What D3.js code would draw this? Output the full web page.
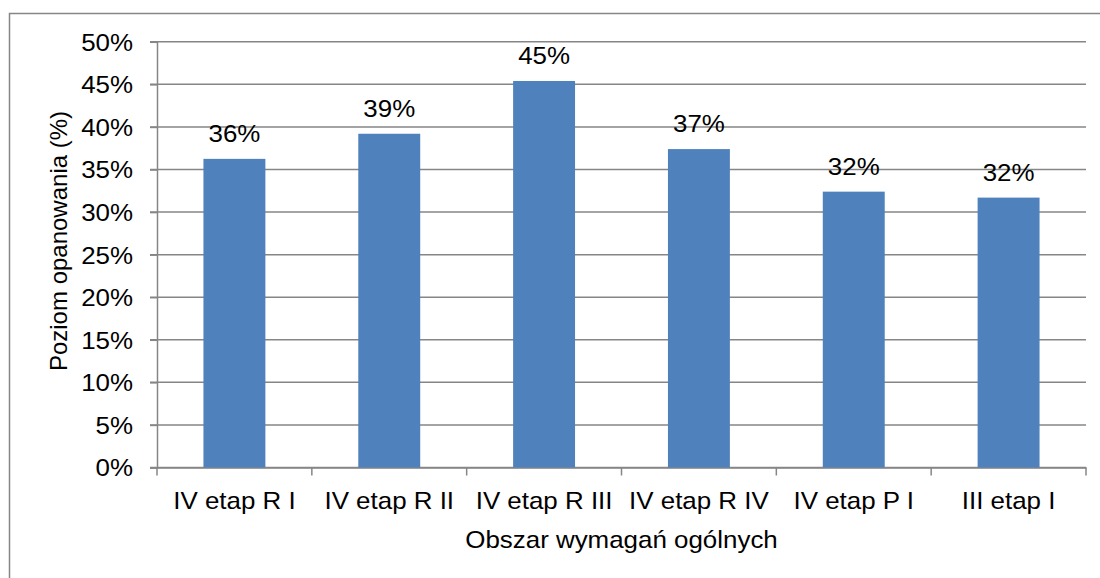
<!DOCTYPE html>
<html>
<head>
<meta charset="utf-8">
<script src="https://cdn.jsdelivr.net/npm/d3@7"></script>
<style>
	body { margin:0; background:#fff; }
	svg text { font-family: "Liberation Sans", Arial, sans-serif; fill:#000; }
</style>
</head>
<body>
<div id="chart-area"></div>
<script>
// data
var categories = ["IV etap R I", "IV etap R II", "IV etap R III", "IV etap R IV", "IV etap P I", "III etap I"];
var values = [0.3625, 0.392, 0.454, 0.374, 0.324, 0.317];
var yTicks = [0, 0.05, 0.10, 0.15, 0.20, 0.25, 0.30, 0.35, 0.40, 0.45, 0.50];

var xTitle = "Obszar wymagań ogólnych";
var yTitle = "Poziom opanowania (%)";

var width = 1100, height = 578;
var plot = {left:157, right:1086, top:41.8, bottom:467.5};
var fmt = d3.format(".0%");
var stretchX = 1.08; // original picture is a bit wider than tall

// move x/y into a transform and widen the glyphs a little
function stretch(sel) {
	sel.each(function() {
		var t = d3.select(this);
		var tx = +t.attr("x") || 0, ty = +t.attr("y") || 0;
		t.attr("x", 0).attr("y", 0)
		 .attr("transform", "translate(" + tx + "," + ty + ") scale(" + stretchX + ",1)");
	});
}

var svg = d3.select("#chart-area").append("svg")
	.attr("width", width)
	.attr("height", height);

// outer frame (runs off the right and bottom edge like the original)
svg.append("rect")
	.attr("x", 9.5).attr("y", 13.5)
	.attr("width", 1200).attr("height", 700)
	.style("fill", "none")
	.style("stroke", "#868686")
	.style("stroke-width", 1.5);

var x = d3.scaleBand()
	.domain(categories)
	.range([plot.left, plot.right])
	.padding(0);

var y = d3.scaleLinear()
	.domain([0, 0.5])
	.range([plot.bottom, plot.top]);

// gridlines
svg.append("g")
	.selectAll("line")
	.data(yTicks)
	.enter()
	.append("line")
	.attr("x1", plot.left - 7)
	.attr("x2", plot.right)
	.attr("y1", function(d) { return y(d); })
	.attr("y2", function(d) { return y(d); })
	.style("stroke", "#868686")
	.style("stroke-width", 1.5);

// y axis
var yAxis = svg.append("g")
	.attr("transform", "translate(" + plot.left + ",0)")
	.call(d3.axisLeft(y).tickValues(yTicks).tickFormat(fmt).tickSize(7).tickPadding(17));
yAxis.select(".domain").style("stroke", "#868686").style("stroke-width", 1.5);
yAxis.selectAll(".tick line").style("stroke", "#868686").style("stroke-width", 1.5);
yAxis.selectAll(".tick text").style("font-size", "24px").attr("dy", "0.35em").call(stretch);

// x axis, ticks on the band edges
var xAxis = svg.append("g")
	.attr("transform", "translate(0," + plot.bottom + ")")
	.call(d3.axisBottom(x).tickSize(0).tickPadding(41));
xAxis.select(".domain").style("stroke", "#868686").style("stroke-width", 1.5);
xAxis.selectAll(".tick text").style("font-size", "24px").attr("dy", "0").call(stretch);

var edges = categories.map(function(c) { return x(c); }).concat([plot.right]);
xAxis.selectAll(".edge")
	.data(edges)
	.enter()
	.append("line")
	.attr("class", "edge")
	.attr("x1", function(d) { return d; })
	.attr("x2", function(d) { return d; })
	.attr("y1", 0).attr("y2", 8)
	.style("stroke", "#868686")
	.style("stroke-width", 1.5);

//## bars
var barW = x.bandwidth() * 0.4;
svg.selectAll(".bar")
	.data(values)
	.enter()
	.append("rect")
	.attr("class", "bar")
	.attr("x", function(d, i) { return x(categories[i]) + (x.bandwidth() - barW) / 2; })
	.attr("width", barW)
	.attr("y", function(d) { return y(d); })
	.attr("height", function(d) { return plot.bottom - y(d); })
	.style("fill", "#4F81BD");

//## bar labels
svg.selectAll(".barlabel")
	.data(values)
	.enter()
	.append("text")
	.attr("class", "barlabel")
	.attr("text-anchor", "middle")
	.attr("x", function(d, i) { return x(categories[i]) + x.bandwidth() / 2; })
	.attr("y", function(d) { return y(d) - 17; })
	.style("font-size", "24px")
	.text(function(d) { return fmt(d); })
	.call(stretch);

// axis titles
svg.append("text")
	.attr("text-anchor", "middle")
	.attr("x", (plot.left + plot.right) / 2)
	.attr("y", 548)
	.style("font-size", "24px")
	.text(xTitle)
	.call(stretch);

svg.append("text")
	.attr("text-anchor", "middle")
	.attr("transform", "translate(67,241) rotate(-90)")
	.style("font-size", "24px")
	.text(yTitle);
</script>
</body>
</html>
